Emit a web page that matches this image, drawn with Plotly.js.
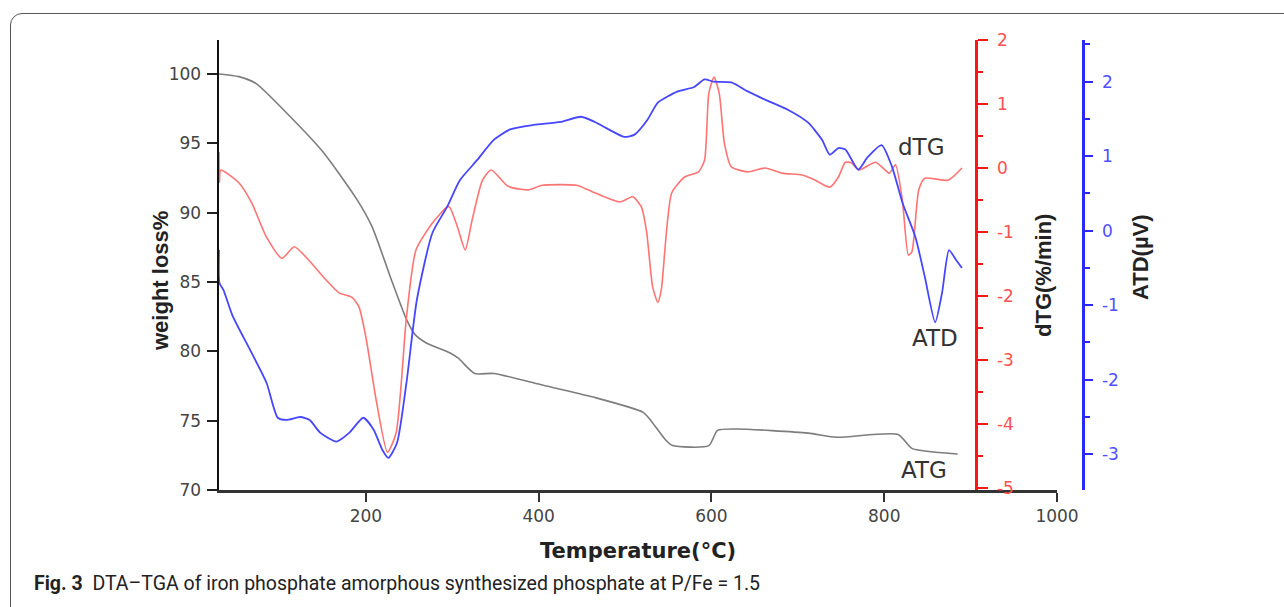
<!DOCTYPE html>
<html>
<head>
<meta charset="utf-8">
<script src="https://cdn.plot.ly/plotly-3.0.1.min.js"></script>
<style>
  html, body { margin: 0; padding: 0; background: #ffffff; }
  #wrap { position: relative; width: 1284px; height: 607px; overflow: hidden; }
  #frame { position: absolute; left: 10px; top: 13px; width: 1320px; height: 640px;
           border: 1.5px solid #555; border-radius: 12px; box-sizing: border-box; }
  #chart { position: absolute; left: 0; top: 0; width: 1284px; height: 607px; }
</style>
</head>
<body>
<div id="wrap">
  <div id="frame"></div>
  <div id="chart"></div>
</div>
<script>
// ---- Data ----
// ATG (weight loss %, left axis)
const atgT = [29, 53, 73, 108, 150, 189, 207, 231, 247, 257, 270, 297, 307, 326, 348, 402, 463, 521, 530, 547, 555, 597, 607, 629, 712, 745, 816, 832, 864, 885];
const atgV = [100.0, 99.8, 99.3, 97.2, 94.4, 91.0, 89.0, 84.9, 82.3, 81.2, 80.6, 79.9, 79.5, 78.4, 78.4, 77.6, 76.7, 75.6, 75.0, 73.6, 73.2, 73.2, 74.3, 74.4, 74.1, 73.8, 74.0, 73.0, 72.7, 72.6];

// dTG (%/min, red axis)
const dtgT = [30, 30.5, 32, 53, 68, 85, 103, 117, 134, 154, 169, 184, 192, 200, 212, 225, 235, 247, 258, 277, 294, 297, 306, 315, 323, 335, 345, 363, 370, 389, 404, 444, 462, 494, 509, 519, 525, 532, 538, 542, 554, 569, 585, 592, 597, 603, 609, 615, 623, 642, 662, 682, 705, 720, 737, 747, 755, 762, 771, 790, 806, 813, 821, 828, 832, 840, 847, 874, 890];
const dtgV = [0.25, -0.22, -0.03, -0.23, -0.55, -1.08, -1.41, -1.23, -1.44, -1.75, -1.95, -2.02, -2.17, -2.64, -3.63, -4.44, -4.14, -2.33, -1.28, -0.86, -0.61, -0.61, -0.92, -1.28, -0.81, -0.19, -0.03, -0.27, -0.31, -0.34, -0.27, -0.27, -0.37, -0.53, -0.45, -0.61, -1.0, -1.86, -2.1, -1.9, -0.39, -0.14, -0.06, 0.12, 1.17, 1.42, 1.17, 0.39, 0.02, -0.06, 0.0, -0.08, -0.11, -0.19, -0.3, -0.14, 0.09, 0.08, -0.03, 0.09, -0.08, 0.05, -0.5, -1.36, -1.31, -0.34, -0.16, -0.19, 0.0];

// ATD (µV, blue axis)
const atdT = [30, 30.5, 35, 46, 66, 85, 98, 108, 124, 135, 147, 166, 181, 197, 209, 219, 226, 236, 247, 259, 277, 294, 309, 329, 348, 367, 394, 425, 449, 465, 481, 499, 511, 526, 538, 561, 580, 592, 603, 623, 642, 662, 689, 712, 728, 737, 747, 755, 770, 781, 797, 809, 821, 836, 847, 859, 867, 875, 883, 890];
const atdV = [-0.26, -0.70, -0.79, -1.15, -1.6, -2.04, -2.51, -2.54, -2.5, -2.54, -2.71, -2.83, -2.71, -2.51, -2.67, -2.94, -3.05, -2.85, -2.04, -0.93, -0.03, 0.32, 0.68, 0.95, 1.22, 1.36, 1.42, 1.46, 1.53, 1.46, 1.36, 1.26, 1.29, 1.49, 1.72, 1.87, 1.93, 2.03, 2.0, 1.99, 1.87, 1.76, 1.62, 1.45, 1.22, 1.02, 1.11, 1.09, 0.82, 0.99, 1.15, 0.86, 0.38, -0.08, -0.62, -1.23, -0.83, -0.26, -0.39, -0.5];

// Tick labels
const xTicks = [200, 400, 600, 800, 1000];
const leftTicks = [70, 75, 80, 85, 90, 95, 100];
const redTicks = [-5, -4, -3, -2, -1, 0, 1, 2];
const redTickText = ['-5', '-4', '-3', '-2', '-1', '0', '1', '2'];
const blueTicks = [-3, -2, -1, 0, 1, 2];
const blueTickText = ['-3', '-2', '-1', '0', '1', '2'];

// ---- Layout helpers (pixel -> paper) ----
const L = 219, R = 1090, T = 40, B = 490;
const px = x => (x - L) / (R - L);
const py = y => (B - y) / (B - T);

const tickFont = {family: 'DejaVu Sans, sans-serif', size: 17, color: '#444'};
const rotFont = {family: 'Liberation Sans, Arial, sans-serif', size: 22, color: '#222'};
const labFont = {family: 'DejaVu Sans, sans-serif', size: 23, color: '#333'};

function ann(text, x, y, font, extra) {
  return Object.assign({text: text, xref: 'paper', yref: 'paper', x: px(x), y: py(y),
    xanchor: 'center', yanchor: 'middle', showarrow: false, font: font}, extra || {});
}

const traces = [
  {x: atgT, y: atgV, type: 'scatter', mode: 'lines', yaxis: 'y',
   line: {color: 'rgb(125,125,125)', width: 1.6, shape: 'spline', smoothing: 0.6}, hoverinfo: 'skip'},
  {x: dtgT, y: dtgV, type: 'scatter', mode: 'lines', yaxis: 'y2',
   line: {color: 'rgb(255,115,115)', width: 1.6, shape: 'spline', smoothing: 0.6}, hoverinfo: 'skip'},
  {x: atdT, y: atdV, type: 'scatter', mode: 'lines', yaxis: 'y3',
   line: {color: 'rgb(70,70,255)', width: 1.8, shape: 'spline', smoothing: 0.6}, hoverinfo: 'skip'}
];

const layout = {
  width: 1284, height: 607,
  margin: {l: L, r: 1284 - R, t: T, b: 607 - B, pad: 0},
  paper_bgcolor: 'rgba(0,0,0,0)', plot_bgcolor: 'rgba(0,0,0,0)',
  showlegend: false,
  xaxis: {domain: [0, px(1057)], range: [30, 1000], tickvals: xTicks,
          showline: true, linecolor: '#333', linewidth: 2.5,
          ticks: 'outside', ticklen: 9, tickwidth: 2, tickcolor: '#333',
          tickfont: tickFont, showgrid: false, zeroline: false, anchor: 'y'},
  yaxis: {range: [70, 102.44], tickvals: leftTicks,
          showline: true, linecolor: '#111', linewidth: 2.5,
          ticks: 'outside', ticklen: 10, tickwidth: 2, tickcolor: '#222',
          tickfont: tickFont, showgrid: false, zeroline: false, ticklabelstandoff: 2},
  yaxis2: {overlaying: 'y', side: 'right', anchor: 'free', position: px(976),
           range: [-5.03, 2.0], tickvals: redTicks, ticktext: redTickText,
           showline: true, linecolor: 'rgb(255,20,20)', linewidth: 2.5,
           ticks: 'outside', ticklen: 10, tickwidth: 2, tickcolor: 'rgb(255,20,20)',
           minor: {tickvals: [-4.5, -3.5, -2.5, -1.5, -0.5, 0.5, 1.5], ticks: 'outside', ticklen: 5, tickwidth: 2, tickcolor: 'rgb(255,20,20)'},
           tickfont: {family: 'DejaVu Sans, sans-serif', size: 17, color: 'rgb(255,80,80)'},
           showgrid: false, zeroline: false, ticklabelstandoff: 6},
  yaxis3: {overlaying: 'y', side: 'right', anchor: 'free', position: px(1083),
           range: [-3.48, 2.56], tickvals: blueTicks, ticktext: blueTickText,
           showline: true, linecolor: 'rgb(40,40,255)', linewidth: 2.5,
           ticks: 'outside', ticklen: 8, tickwidth: 2, tickcolor: 'rgb(40,40,255)',
           minor: {tickvals: [-2.5, -1.5, -0.5, 0.5, 1.5, 2.5], ticks: 'outside', ticklen: 5, tickwidth: 2, tickcolor: 'rgb(40,40,255)'},
           tickfont: {family: 'DejaVu Sans, sans-serif', size: 17, color: 'rgb(80,80,255)'},
           showgrid: false, zeroline: false, ticklabelstandoff: 6},
  annotations: [
    ann('<b>weight loss%</b>', 160, 281, rotFont, {textangle: -90}),
    ann('<b>dTG(%/min)</b>', 1043, 276, rotFont, {textangle: -90}),
    ann('<b>ATD(µV)</b>', 1140, 257, rotFont, {textangle: -90}),
    ann('<b>Temperature(°C)</b>', 638, 551, {family: 'DejaVu Sans, sans-serif', size: 21, color: '#222'}),
    ann('dTG', 921, 147, labFont),
    ann('ATD', 935, 338, labFont),
    ann('ATG', 924, 470, labFont),
    ann('<b>Fig. 3</b>  DTA–TGA of iron phosphate amorphous synthesized phosphate at P/Fe = 1.5', 32, 583,
        {family: 'Roboto, sans-serif', size: 19.5, color: '#222'}, {xanchor: 'left'})
  ]
};

Plotly.newPlot('chart', traces, layout, {displayModeBar: false, staticPlot: true});
</script>
</body>
</html>
